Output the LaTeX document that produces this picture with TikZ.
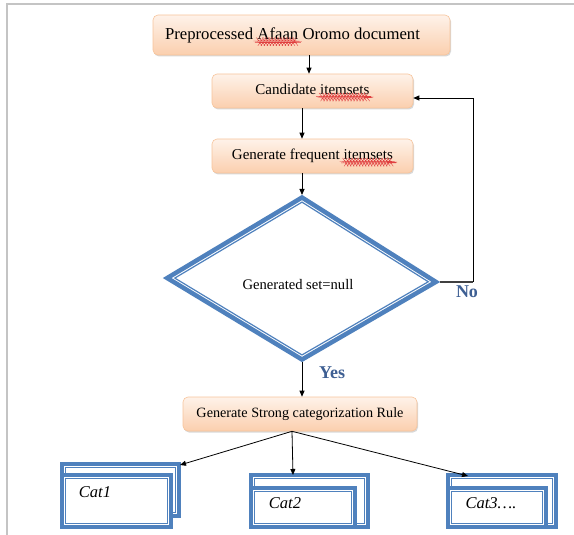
\documentclass[tikz,border=0pt]{standalone}
\usepackage{fontspec}
\setmainfont{Liberation Serif}
\usetikzlibrary{arrows.meta,shadows,decorations.pathmorphing,calc}
\definecolor{cblue}{HTML}{4F81BD}
\definecolor{lblue}{HTML}{3E5F93}
\definecolor{pk1}{HTML}{FEF2E9}
\definecolor{pk2}{HTML}{FBCFAE}
\definecolor{pkd}{HTML}{F7C49B}
\definecolor{gline}{HTML}{C4C4C4}
\definecolor{sqred}{HTML}{E04040}
\newcommand\squig[1]{\tikz[baseline=(sq.base)]{\node[inner sep=0pt,outer sep=0pt,minimum width=0pt,minimum height=0pt,draw=none,fill=none] (sq) {#1};\draw[sqred,line width=0.35pt,decorate,decoration={snake,amplitude=0.7pt,segment length=3pt}] ([yshift=-2.6pt]sq.base west) -- ([yshift=-2.6pt]sq.base east);}}
\tikzset{
  proc/.style={rectangle, rounded corners=5pt, draw=pkd, line width=0.6pt,
    top color=pk1, bottom color=pk2,
    drop shadow={shadow xshift=1pt, shadow yshift=-1.5pt, opacity=0.22, fill=black!70},
    inner sep=0pt, font=\fontsize{15}{18}\selectfont},
  arr/.style={-{Triangle[length=6pt,width=5pt]}, line width=0.8pt, black},
  catbox/.style={rectangle, draw=cblue, line width=4pt, fill=white, inner sep=0pt, anchor=north west},
  catin/.style={cblue, line width=1.2pt},
  lab/.style={text=lblue, font=\bfseries\fontsize{18}{20}\selectfont, inner sep=0pt},
  cattxt/.style={font=\itshape\fontsize{16.5}{19}\selectfont, inner sep=0pt},
}
\begin{document}
\begin{tikzpicture}[x=1pt,y=-1pt]
\useasboundingbox (0,0) rectangle (574,535);
\draw[gline, line width=1.2pt] (7,535) -- (7,4) -- (574,4);

% process boxes
\node[proc, minimum width=297pt, minimum height=40pt] (b1) at (301.5,35)
  {\kern-18pt\fontsize{16.7}{19}\selectfont Preprocessed \squig{Afaan} Oromo document};
\node[proc, minimum width=201pt, minimum height=34pt] (b2) at (312.5,91)
  {Candidate \squig{itemsets}};
\node[proc, minimum width=201pt, minimum height=34pt] (b3) at (312.5,156)
  {Generate frequent \squig{itemsets}};
\node[proc, minimum width=234pt, minimum height=34pt] (b4) at (300,414)
  {\fontsize{14.2}{17}\selectfont Generate Strong categorization Rule};

% decision diamond
\coordinate (dC) at (302,279);
\coordinate (dT) at (302,195);
\coordinate (dL) at (163,278);
\coordinate (dR) at (440,282);
\coordinate (dB) at (302,362);
\draw[cblue, line width=4.5pt, line join=miter, fill=white]
  ($(dC)!0.97!(dT)$) -- ($(dC)!0.97!(dR)$) -- ($(dC)!0.97!(dB)$) -- ($(dC)!0.97!(dL)$) -- cycle;
\draw[cblue, line width=1.2pt, line join=miter]
  ($(dC)!0.915!(dT)$) -- ($(dC)!0.915!(dR)$) -- ($(dC)!0.915!(dB)$) -- ($(dC)!0.915!(dL)$) -- cycle;
\node[inner sep=0pt, font=\fontsize{14.6}{17}\selectfont] (dtxt) at (298,285) {Generated set=null};

% labels
\node[lab] (no) at (467,292) {No};
\node[lab] (yes) at (332,373) {Yes};

% arrows in the main flow
\draw[arr] ([xshift=7.5pt]b1.south) -- ([xshift=7.5pt]b1.south |- b2.north);
\draw[arr] ([xshift=-10.5pt]b2.south) -- ([xshift=-10.5pt]b2.south |- b3.north);
\draw[arr] ([xshift=-10.5pt]b3.south) -- (dT);
\coordinate (fb) at (473,282);
\draw[line width=1.4pt, black!75] (dR) -- (fb);
\draw[arr] (fb) |- ([yshift=-7pt]b2.east);
\draw[arr] (dB) -- (dB |- b4.north);

% category boxes
\node[catbox, minimum width=117pt, minimum height=52pt] (c1b) at (60,462) {};
\draw[catin] ([shift={(5.6,5.6)}]c1b.north west) rectangle ([shift={(-5.6,-5.6)}]c1b.south east);
\node[catbox, minimum width=109pt, minimum height=52pt] (c1f) at (60,473) {};
\draw[catin] ([shift={(5.6,5.6)}]c1f.north west) rectangle ([shift={(-5.6,-5.6)}]c1f.south east);
\node[cattxt] (t1) at (95,492) {Cat1};

\node[catbox, minimum width=117pt, minimum height=52pt] (c2b) at (249,473) {};
\draw[catin] ([shift={(5.6,5.6)}]c2b.north west) rectangle ([shift={(-5.6,-5.6)}]c2b.south east);
\node[catbox, minimum width=104pt, minimum height=39pt] (c2f) at (249,486) {};
\draw[catin] ([shift={(5.6,5.6)}]c2f.north west) rectangle ([shift={(-5.6,-5.6)}]c2f.south east);
\node[cattxt] (t2) at (285,503) {Cat2};

\node[catbox, minimum width=108pt, minimum height=52pt] (c3b) at (446,473) {};
\draw[catin] ([shift={(5.6,5.6)}]c3b.north west) rectangle ([shift={(-5.6,-5.6)}]c3b.south east);
\node[catbox, minimum width=98pt, minimum height=39pt] (c3f) at (446,486) {};
\draw[catin] ([shift={(5.6,5.6)}]c3f.north west) rectangle ([shift={(-5.6,-5.6)}]c3f.south east);
\node[cattxt] (t3) at (491,503) {Cat3….};

% arrows to categories
\coordinate (s4) at ([xshift=-8pt]b4.south);
\coordinate (e1) at (180,465);
\coordinate (e2) at (293,475);
\coordinate (e3) at (468,476);
\draw[arr] (s4) -- (e1);
\draw[arr] (s4) -- (e2);
\draw[arr] (s4) -- (e3);
\end{tikzpicture}
\end{document}
